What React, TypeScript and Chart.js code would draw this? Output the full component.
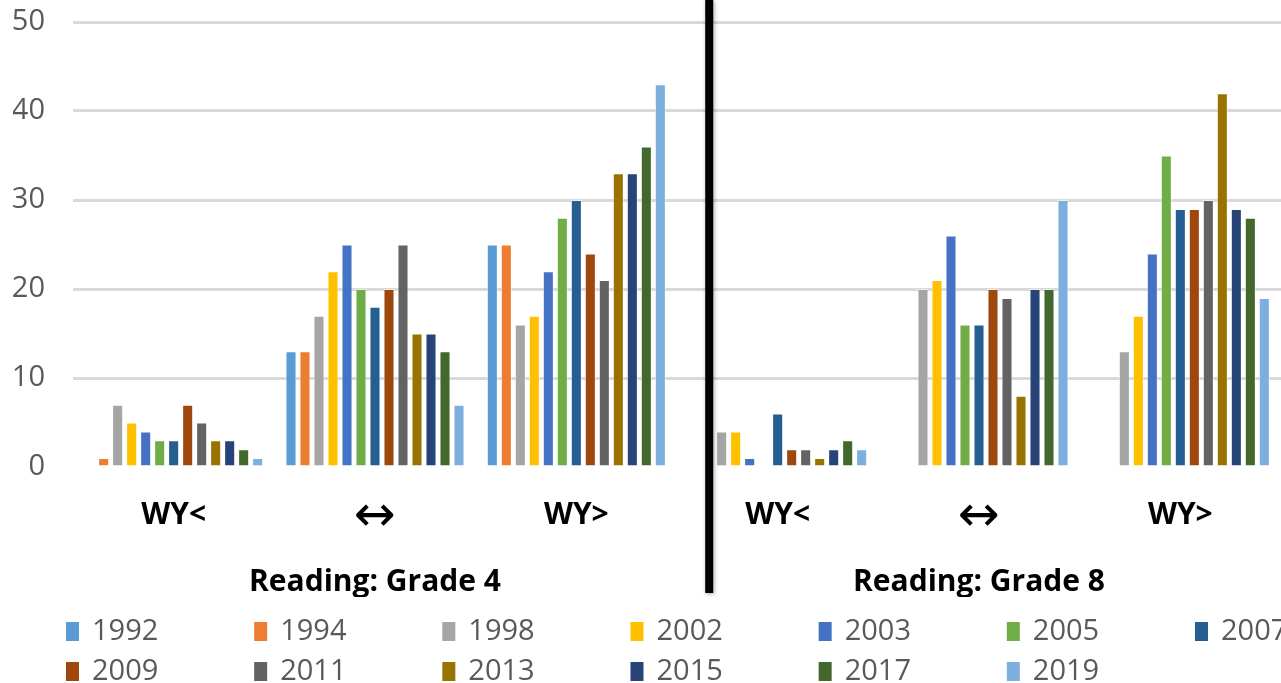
import React, { useEffect, useRef } from 'react';
import { Chart, registerables } from 'chart.js';

Chart.register(...registerables);

const categories = ['WY<', '↔', 'WY>', 'WY<', '↔', 'WY>'];
const groupLabels = ['Reading: Grade 4', 'Reading: Grade 8'];
const yTicks = [0, 10, 20, 30, 40, 50];

const years = ['1992', '1994', '1998', '2002', '2003', '2005', '2007', '2009', '2011', '2013', '2015', '2017', '2019'];
const colors = ['#5B9BD5', '#ED7D31', '#A5A5A5', '#FFC000', '#4472C4', '#70AD47', '#255E91', '#9E480E', '#636363', '#997300', '#264478', '#43682B', '#7CAFDD'];

// values per year across the six categories (Grade 4: WY<, ↔, WY> ; Grade 8: WY<, ↔, WY>)
const v1992 = [0, 13, 25, null, null, null];
const v1994 = [1, 13, 25, null, null, null];
const v1998 = [7, 17, 16, 4, 20, 13];
const v2002 = [5, 22, 17, 4, 21, 17];
const v2003 = [4, 25, 22, 1, 26, 24];
const v2005 = [3, 20, 28, 0, 16, 35];
const v2007 = [3, 18, 30, 6, 16, 29];
const v2009 = [7, 20, 24, 2, 20, 29];
const v2011 = [5, 25, 21, 2, 19, 30];
const v2013 = [3, 15, 33, 1, 8, 42];
const v2015 = [3, 15, 33, 2, 20, 29];
const v2017 = [2, 13, 36, 3, 20, 28];
const v2019 = [1, 7, 43, 2, 30, 19];

const seriesValues = [v1992, v1994, v1998, v2002, v2003, v2005, v2007, v2009, v2011, v2013, v2015, v2017, v2019];

const FONT = '"Open Sans", "Noto Sans", "DejaVu Sans", sans-serif';
const ARROW_FONT = '"DejaVu Sans", sans-serif';
const DIVIDER_AT = 2.66; // in category units on the x scale

const dividerPlugin = {
  id: 'divider',
  afterDraw(chart: any) {
    const { ctx } = chart;
    const xs = chart.scales.x;
    const x2 = chart.scales.x2;
    const px = xs.getPixelForValue(DIVIDER_AT);
    ctx.save();
    ctx.shadowColor = 'rgba(0,0,0,0.35)';
    ctx.shadowBlur = 4;
    ctx.shadowOffsetX = 1;
    ctx.shadowOffsetY = 1;
    ctx.fillStyle = '#000';
    ctx.fillRect(px - 4, 0, 8, x2.bottom - 4);
    ctx.restore();
  },
};

const LEGEND_COLS = 7;
const legendPlugin = {
  id: 'gridLegend',
  afterDraw(chart: any) {
    const { ctx } = chart;
    const x2 = chart.scales.x2;
    const area = chart.chartArea;
    ctx.save();
    ctx.font = `29px ${FONT}`;
    ctx.textBaseline = 'middle';
    ctx.textAlign = 'left';
    const pitch = (area.right - area.left) / 6.42;
    chart.data.datasets.forEach((ds: any, i: number) => {
      const col = i % LEGEND_COLS;
      const row = Math.floor(i / LEGEND_COLS);
      const bx = area.left - 7 + col * pitch;
      const cy = x2.bottom + 34 + row * 40;
      ctx.fillStyle = ds.backgroundColor;
      ctx.fillRect(bx, cy - 9, 13, 19);
      ctx.fillStyle = '#595959';
      ctx.fillText(ds.label, bx + 26, cy + 1);
    });
    ctx.restore();
  },
};

export default function App() {
  const ref = useRef<HTMLCanvasElement | null>(null);

  useEffect(() => {
    if (!ref.current) return;
    const chart = new Chart(ref.current, {
      type: 'bar',
      data: {
        labels: categories,
        datasets: years.map((y, i) => ({
          label: y,
          data: seriesValues[i],
          backgroundColor: colors[i],
          borderColor: 'rgba(255,255,255,0.55)',
          borderWidth: 1,
          xAxisID: 'x',
          categoryPercentage: 0.904,
          barPercentage: 0.79,
        })),
      },
      options: {
        animation: false,
        responsive: true,
        maintainAspectRatio: false,
        layout: { padding: { left: 13, top: 0, right: 0, bottom: 86 } },
        plugins: {
          legend: { display: false },
          tooltip: { enabled: false },
        },
        scales: {
          x: {
            type: 'category',
            offset: true,
            grid: { display: false, drawTicks: false },
            border: { display: false },
            afterFit: (axis: any) => {
              axis.height = 64;
            },
            ticks: {
              color: '#000',
              padding: 30,
              maxRotation: 0,
              font: (c: any) =>
                c.tick && c.tick.label === '↔'
                  ? { family: ARROW_FONT, size: 50, weight: 'normal', lineHeight: 0.86 }
                  : { family: FONT, size: 30, weight: 'bold' },
            },
          },
          x2: {
            type: 'category',
            labels: groupLabels,
            position: 'bottom',
            offset: true,
            grid: { display: false, drawTicks: false },
            border: { display: false },
            afterFit: (axis: any) => {
              axis.height = 66;
            },
            ticks: { color: '#000', padding: 33, maxRotation: 0, font: { family: FONT, size: 30, weight: 'bold' } },
          },
          y: {
            min: yTicks[0],
            max: yTicks[yTicks.length - 1],
            afterBuildTicks: (axis: any) => {
              axis.ticks = yTicks.map((v) => ({ value: v }));
            },
            afterFit: (axis: any) => {
              axis.width = 60;
              axis.paddingTop = 22;
              axis.paddingBottom = 0;
            },
            grid: {
              drawTicks: false,
              lineWidth: 3,
              color: (c: any) => (c.tick && c.tick.value === 0 ? 'rgba(0,0,0,0)' : '#D9D9D9'),
            },
            border: { display: false },
            ticks: { color: '#595959', padding: 28, font: { family: FONT, size: 29 } },
          },
        },
      } as any,
      plugins: [dividerPlugin, legendPlugin],
    });
    return () => chart.destroy();
  }, []);

  return (
    <div style={{ position: 'fixed', left: 0, top: 0, width: 1281, height: 683, background: '#fff' }}>
      <canvas ref={ref} />
    </div>
  );
}
